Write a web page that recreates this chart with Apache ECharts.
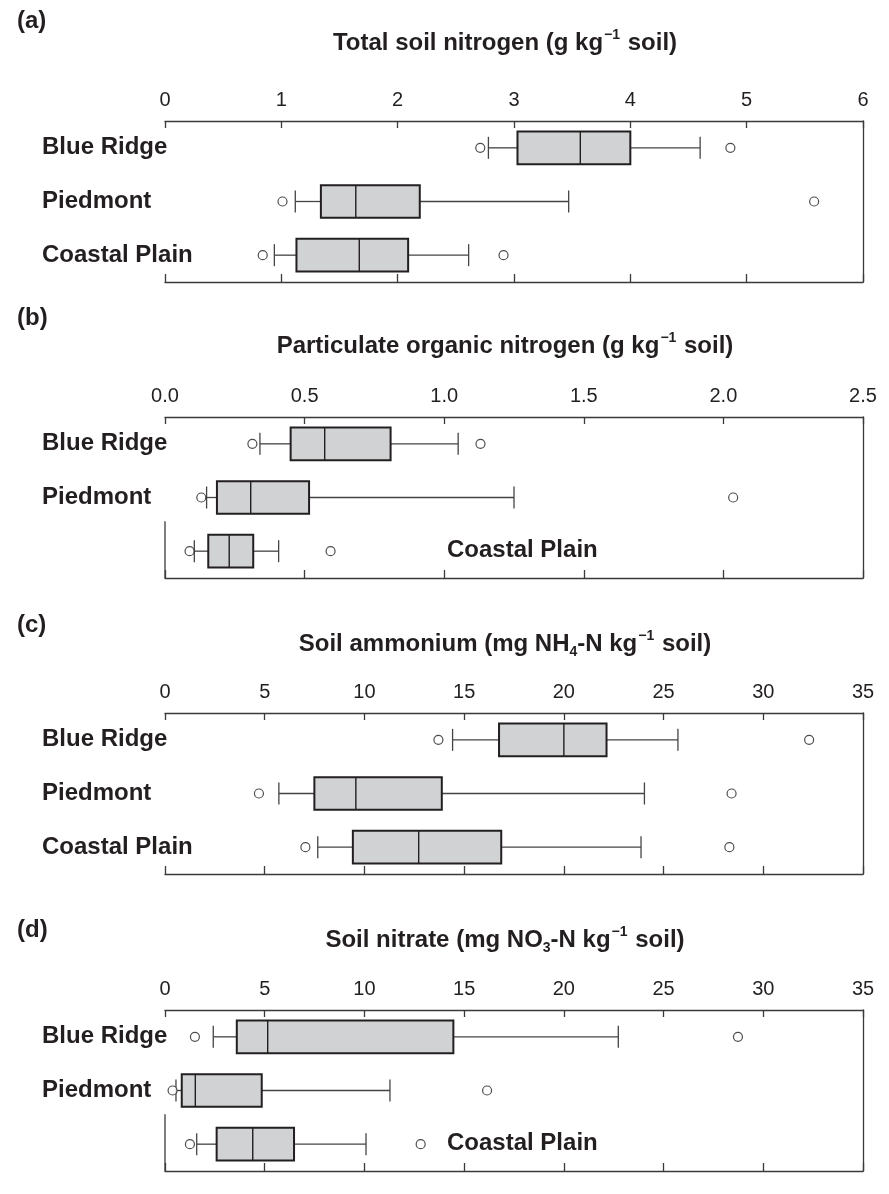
<!DOCTYPE html>
<html>
<head>
<meta charset="utf-8">
<script src="https://cdn.jsdelivr.net/npm/echarts@6/dist/echarts.min.js"></script>
<style>
  html, body { margin: 0; padding: 0; background: #fff; }
  #main { width: 889px; height: 1194px; }
</style>
</head>
<body>
<div id="main"></div>
<script>
    var cats = ['Blue Ridge', 'Piedmont', 'Coastal Plain'];
    var panelTags = ['(a)', '(b)', '(c)', '(d)'];
    var titles = [
        'Total soil nitrogen (g kg{sup|\u22121} soil)',
        'Particulate organic nitrogen (g kg{sup|\u22121} soil)',
        'Soil ammonium (mg NH{sub|4}-N kg{sup|\u22121} soil)',
        'Soil nitrate (mg NO{sub|3}-N kg{sup|\u22121} soil)'
    ];
    var axisMax = [6, 2.5, 35, 35];
    var axisStep = [1, 0.5, 5, 5];
    var axisDecimals = [0, 1, 0, 0];
    // panels where the "Coastal Plain" name sits inside the plot
    var insideName = [false, true, false, true];

    // [low whisker, Q1, median, Q3, high whisker] for Blue Ridge, Piedmont, Coastal Plain
    var totalN = [[2.78, 3.03, 3.57, 4.00, 4.60], [1.12, 1.34, 1.64, 2.19, 3.47], [0.94, 1.13, 1.67, 2.09, 2.61]];
    var totalNOut = [[2.71, 4.86], [1.01, 5.58], [0.84, 2.91]];

    var partN = [[0.34, 0.45, 0.572, 0.808, 1.05], [0.149, 0.186, 0.307, 0.516, 1.25], [0.105, 0.155, 0.23, 0.316, 0.407]];
    var partNOut = [[0.313, 1.13], [0.13, 2.035], [0.088, 0.593]];

    var ammonium = [[14.42, 16.75, 20.0, 22.14, 25.72], [5.71, 7.49, 9.57, 13.88, 24.04], [7.66, 9.42, 12.72, 16.86, 23.87]];
    var ammoniumOut = [[13.71, 32.3], [4.71, 28.41], [7.04, 28.3]];

    var nitrate = [[2.42, 3.6, 5.15, 14.46, 22.73], [0.55, 0.84, 1.52, 4.85, 11.28], [1.59, 2.59, 4.40, 6.47, 10.08]];
    var nitrateOut = [[1.5, 28.73], [0.38, 16.15], [1.25, 12.82]];

    var boxes = [totalN, partN, ammonium, nitrate];
    var outliers = [totalNOut, partNOut, ammoniumOut, nitrateOut];

    var gridTops = [121, 417, 713, 1010];
    var gridLeft = 165, gridW = 698, gridH = 161;
    var tagY = [23, 320, 627, 932];
    var titleY = [41, 344, 642, 938];
    var ink = '#231f20';
    var font = 'Liberation Sans, Arial, sans-serif';
    var frameStyle = { color: '#3a3a3a', width: 1.3 };

    function renderBox(params, api) {
        var cat = api.value(0);
        var lo = api.coord([api.value(1), cat]);
        var q1 = api.coord([api.value(2), cat]);
        var md = api.coord([api.value(3), cat]);
        var q3 = api.coord([api.value(4), cat]);
        var hi = api.coord([api.value(5), cat]);
        var band = api.size([0, 1])[1];
        var bh = band * 0.61;
        var ch = band * 0.41;
        var cy = lo[1];
        var thin = { stroke: '#444', lineWidth: 1.3 };
        return {
            type: 'group',
            children: [
                { type: 'line', shape: { x1: lo[0], y1: cy, x2: q1[0], y2: cy }, style: thin },
                { type: 'line', shape: { x1: q3[0], y1: cy, x2: hi[0], y2: cy }, style: thin },
                { type: 'line', shape: { x1: lo[0], y1: cy - ch / 2, x2: lo[0], y2: cy + ch / 2 }, style: thin },
                { type: 'line', shape: { x1: hi[0], y1: cy - ch / 2, x2: hi[0], y2: cy + ch / 2 }, style: thin },
                {
                    type: 'rect',
                    shape: { x: q1[0], y: cy - bh / 2, width: q3[0] - q1[0], height: bh },
                    style: { fill: '#d1d2d4', stroke: ink, lineWidth: 2 }
                },
                { type: 'line', shape: { x1: md[0], y1: cy - bh / 2, x2: md[0], y2: cy + bh / 2 }, style: { stroke: ink, lineWidth: 1.4 } }
            ]
        };
    }

    var grid = [], xAxis = [], yAxis = [], series = [], graphic = [];

    for (var i = 0; i < 4; i++) {
        grid.push({ left: gridLeft, top: gridTops[i], width: gridW, height: gridH });

        (function (dec) {
            xAxis.push({
                gridIndex: i, type: 'value', position: 'top',
                min: 0, max: axisMax[i], interval: axisStep[i],
                axisLine: { show: true, onZero: false, lineStyle: frameStyle },
                axisTick: { show: true, inside: true, length: 7, lineStyle: frameStyle },
                axisLabel: {
                    margin: 11, fontSize: 20, color: ink, fontFamily: font,
                    formatter: function (v) { return v.toFixed(dec); }
                },
                splitLine: { show: false }
            });
        })(axisDecimals[i]);
        xAxis.push({
            gridIndex: i, type: 'value', position: 'bottom',
            min: 0, max: axisMax[i], interval: axisStep[i],
            axisLine: { show: true, onZero: false, lineStyle: frameStyle },
            axisTick: { show: true, inside: true, length: 8, lineStyle: frameStyle },
            axisLabel: { show: false },
            splitLine: { show: false }
        });

        (function (hideLast) {
            yAxis.push({
                gridIndex: i, type: 'category', data: cats, inverse: true,
                axisLine: { show: false, onZero: false }, axisTick: { show: false },
                axisLabel: {
                    align: 'left', margin: 123, fontSize: 24, fontWeight: 'bold',
                    color: ink, fontFamily: font, padding: [0, 0, 4, 0],
                    formatter: function (v) { return (hideLast && v === 'Coastal Plain') ? '' : v; }
                }
            });
        })(insideName[i]);
        yAxis.push({
            gridIndex: i, type: 'category', data: cats, inverse: true, position: 'right',
            axisLine: { show: true, onZero: false, lineStyle: frameStyle },
            axisTick: { show: false }, axisLabel: { show: false }
        });

        var boxData = boxes[i].map(function (b, k) { return [k].concat(b); });
        series.push({
            type: 'custom', xAxisIndex: 2 * i, yAxisIndex: 2 * i,
            renderItem: renderBox,
            encode: { x: [1, 2, 3, 4, 5], y: 0 },
            data: boxData,
            silent: true
        });

        var outData = [];
        outliers[i].forEach(function (pts, k) {
            pts.forEach(function (v) { outData.push([v, k]); });
        });
        series.push({
            type: 'scatter', xAxisIndex: 2 * i, yAxisIndex: 2 * i,
            symbol: 'circle', symbolSize: 9,
            itemStyle: { color: '#fff', borderColor: ink, borderWidth: 1.2 },
            data: outData, z: 3, silent: true
        });

        graphic.push({
            type: 'text', left: 17, top: tagY[i] - 14,
            style: { text: panelTags[i], font: 'bold 24px ' + font, fill: ink }
        });
        graphic.push({
            type: 'text', x: 505, y: titleY[i] + 2,
            style: {
                text: titles[i], font: 'bold 24px ' + font, fill: ink,
                align: 'center', verticalAlign: 'middle',
                rich: {
                    sup: { fontSize: 14, fontWeight: 'bold', fontFamily: font, verticalAlign: 'top', lineHeight: 14, padding: [0, 1, 0, 1] },
                    sub: { fontSize: 14, fontWeight: 'bold', fontFamily: font, verticalAlign: 'bottom', lineHeight: 14 }
                },
                lineHeight: 30
            }
        });

        if (insideName[i]) {
            graphic.push({
                type: 'text', x: 447, y: gridTops[i] + gridH * 5 / 6 - 1,
                style: { text: 'Coastal Plain', font: 'bold 24px ' + font, fill: ink, verticalAlign: 'middle' }
            });
            graphic.push({
                type: 'line',
                shape: { x1: gridLeft, y1: gridTops[i] + gridH * 2 / 3 - 3, x2: gridLeft, y2: gridTops[i] + gridH },
                style: { stroke: frameStyle.color, lineWidth: frameStyle.width }
            });
        }
    }

    var chart = echarts.init(document.getElementById('main'));
    chart.setOption({
        animation: false,
        backgroundColor: '#fff',
        grid: grid,
        xAxis: xAxis,
        yAxis: yAxis,
        series: series,
        graphic: graphic
    });
</script>
</body>
</html>
